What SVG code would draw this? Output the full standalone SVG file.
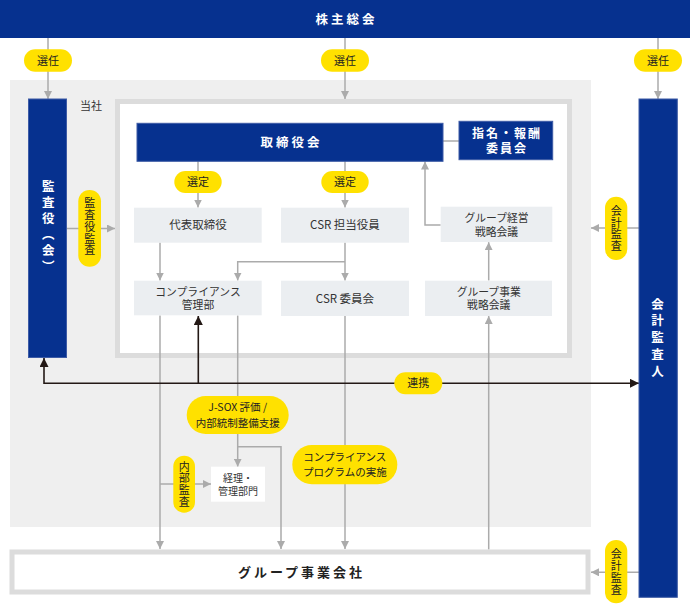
<svg xmlns="http://www.w3.org/2000/svg" width="690" height="604" viewBox="0 0 690 604">
<defs>
<marker id="ag" viewBox="0 0 8 8" refX="8" refY="4" markerWidth="8" markerHeight="8" markerUnits="userSpaceOnUse" orient="auto"><path d="M0,0 L8,4 L0,8 z" fill="#ababab"/></marker>
<marker id="ab" viewBox="0 0 8 8" refX="8" refY="4" markerWidth="9" markerHeight="9" markerUnits="userSpaceOnUse" orient="auto"><path d="M0,0 L8,4 L0,8 z" fill="#231815"/></marker>
</defs>
<style>
text{font-family:"Noto Sans CJK JP","Noto Sans",sans-serif;text-anchor:middle;}
.blue{fill:#06318f;stroke:#3d5ba6;stroke-width:1;}
.box{fill:#ebeef1;}
.pill{fill:#ffe100;}
.wt{fill:#fff;font-weight:bold;}
.lbl{fill:#333;font-size:11.5px;}
.lbl2{fill:#333;font-size:10.8px;}
.pt{fill:#222;font-size:11px;}
.vt{fill:#222;font-size:11px;writing-mode:vertical-rl;letter-spacing:0.8px;}
.vw{fill:#fff;font-weight:bold;font-size:12.5px;writing-mode:vertical-rl;}
.g{fill:none;stroke:#ababab;stroke-width:1.5;}
.k{fill:none;stroke:#231815;stroke-width:1.6;}
</style>
<rect x="0" y="0" width="690" height="604" fill="#fff"/>
<rect x="10" y="80" width="581" height="447" fill="#efefef"/>
<rect x="117.5" y="101.5" width="452" height="254" fill="#fff" stroke="#dcdcdc" stroke-width="5"/>
<text x="80" y="110" style="fill:#333;font-size:11px;text-anchor:start">当社</text>

<g id="connectors">
<line class="g" x1="48" y1="38" x2="48" y2="99" marker-end="url(#ag)"/>
<line class="g" x1="345" y1="38" x2="345" y2="99" marker-end="url(#ag)"/>
<line class="g" x1="658" y1="38" x2="658" y2="99" marker-end="url(#ag)"/>
<line class="g" x1="198" y1="161" x2="198" y2="207.5" marker-end="url(#ag)"/>
<line class="g" x1="345" y1="161" x2="345" y2="207.5" marker-end="url(#ag)"/>
<line class="g" x1="443" y1="141" x2="459" y2="141"/>
<line class="g" x1="67" y1="228.5" x2="115" y2="228.5" marker-end="url(#ag)"/>
<line class="g" x1="639" y1="228" x2="591" y2="228" marker-end="url(#ag)"/>
<line class="g" x1="160" y1="242.5" x2="160" y2="280.5" marker-end="url(#ag)"/>
<line class="g" x1="345" y1="242.5" x2="345" y2="280.5" marker-end="url(#ag)"/>
<polyline class="g" points="345,261.7 237.7,261.7 237.7,280.5" marker-end="url(#ag)"/>
<polyline class="g" points="440.7,225 425,225 425,161.5" marker-end="url(#ag)"/>
<line class="g" x1="488.7" y1="280.5" x2="488.7" y2="242.2" marker-end="url(#ag)"/>
<line class="g" x1="488.7" y1="549.5" x2="488.7" y2="316" marker-end="url(#ag)"/>
<line class="g" x1="160" y1="315.5" x2="160" y2="549" marker-end="url(#ag)"/>
<line class="g" x1="160" y1="484" x2="211" y2="484" marker-end="url(#ag)"/>
<line class="g" x1="237.7" y1="315.5" x2="237.7" y2="466.7" marker-end="url(#ag)"/>
<polyline class="g" points="237.7,446.7 281,446.7 281,549" marker-end="url(#ag)"/>
<line class="g" x1="345" y1="316" x2="345" y2="549" marker-end="url(#ag)"/>
<line class="g" x1="639" y1="572.3" x2="591" y2="572.3" marker-end="url(#ag)"/>
<line class="k" x1="44" y1="383.3" x2="639" y2="383.3" marker-end="url(#ab)"/>
<line class="k" x1="44" y1="384" x2="44" y2="358" marker-end="url(#ab)"/>
<line class="k" x1="198.3" y1="384" x2="198.3" y2="316" marker-end="url(#ab)"/>
</g>

<g id="shareholders">
<rect x="0" y="0" width="690" height="38" fill="#06318f"/>
<text class="wt" x="346.5" y="23.5" style="font-size:12.5px;letter-spacing:3px">株主総会</text>
</g>

<g id="auditors">
<rect class="blue" x="28.5" y="99" width="38" height="258.5"/>
<text class="vw" x="48.3" y="228" style="letter-spacing:3.4px">監査役（会）</text>
</g>

<g id="accounting-auditor">
<rect class="blue" x="639" y="99" width="38.3" height="498.3"/>
<text class="vw" x="657.5" y="339.5" style="letter-spacing:4.2px">会計監査人</text>
</g>

<g id="board">
<rect class="blue" x="137" y="123.3" width="306" height="38"/>
<text class="wt" x="291.5" y="146.8" style="font-size:12.5px;letter-spacing:3px">取締役会</text>
</g>

<g id="nomination">
<rect class="blue" x="459" y="121.3" width="93.7" height="38.4"/>
<text class="wt" style="font-size:12px;letter-spacing:2px"><tspan x="507" y="137.6">指名・報酬</tspan><tspan x="507" y="152.6">委員会</tspan></text>
</g>

<g id="representative">
<rect class="box" x="134" y="207.7" width="127.7" height="35"/>
<text class="lbl" x="198" y="229.4">代表取締役</text>
</g>

<g id="csr-officer">
<rect class="box" x="281" y="207.7" width="128" height="35"/>
<text class="lbl" x="345" y="229.4">CSR 担当役員</text>
</g>

<g id="group-mgmt-strategy">
<rect class="box" x="440.7" y="206.7" width="111.6" height="35.3"/>
<text class="lbl2"><tspan x="496.5" y="221.9">グループ経営</tspan><tspan x="496.5" y="235.6">戦略会議</tspan></text>
</g>

<g id="compliance-dept">
<rect class="box" x="134" y="280.7" width="127.7" height="34.6"/>
<text class="lbl2"><tspan x="198" y="295.6">コンプライアンス</tspan><tspan x="198" y="308.9">管理部</tspan></text>
</g>

<g id="csr-committee">
<rect class="box" x="281" y="280.7" width="128" height="35.3"/>
<text class="lbl" x="345" y="302.5">CSR 委員会</text>
</g>

<g id="group-biz-strategy">
<rect class="box" x="425" y="280.7" width="127" height="35.3"/>
<text class="lbl2"><tspan x="488.7" y="295.6">グループ事業</tspan><tspan x="488.7" y="308.9">戦略会議</tspan></text>
</g>

<g id="accounting-dept">
<rect x="211" y="466.7" width="54" height="35" fill="#fff"/>
<text style="fill:#333;font-size:10px"><tspan x="238" y="481.6">経理・</tspan><tspan x="238" y="495.3">管理部門</tspan></text>
</g>

<g id="group-companies">
<rect x="12" y="552" width="576" height="40" fill="#fff" stroke="#dcdcdc" stroke-width="5"/>
<text x="301.5" y="576.7" style="fill:#222;font-size:13px;font-weight:bold;letter-spacing:3px">グループ事業会社</text>
</g>

<g id="labels">
<rect class="pill" x="24" y="49.3" width="48" height="22.4" rx="11.2"/>
<text class="pt" x="48" y="64.5">選任</text>
<rect class="pill" x="321" y="49.3" width="48" height="22.4" rx="11.2"/>
<text class="pt" x="345" y="64.5">選任</text>
<rect class="pill" x="634" y="49.3" width="48" height="22.4" rx="11.2"/>
<text class="pt" x="658" y="64.5">選任</text>
<rect class="pill" x="174.3" y="171" width="47.4" height="22" rx="11"/>
<text class="pt" x="198" y="186">選定</text>
<rect class="pill" x="321.3" y="171" width="47.4" height="22" rx="11"/>
<text class="pt" x="345" y="186">選定</text>
<rect class="pill" x="78.3" y="190" width="22.7" height="76.7" rx="11.3"/>
<text class="vt" x="89.7" y="227.1">監査役監査</text>
<rect class="pill" x="605" y="196.7" width="22.3" height="63.3" rx="11.1"/>
<text class="vt" x="616.2" y="228.7">会計監査</text>
<rect class="pill" x="394.3" y="372.3" width="48" height="22" rx="11"/>
<text class="pt" x="418.3" y="387.3">連携</text>
<rect class="pill" x="186.7" y="396" width="102" height="38" rx="19"/>
<text class="pt" style="font-size:10.5px"><tspan x="237.7" y="410.6">J-SOX 評価 /</tspan><tspan x="237.7" y="426.6">内部統制整備支援</tspan></text>
<rect class="pill" x="292.3" y="445" width="105" height="39.3" rx="19.6"/>
<text class="pt" style="font-size:10.5px"><tspan x="344.8" y="461.3">コンプライアンス</tspan><tspan x="344.8" y="475.6">プログラムの実施</tspan></text>
<rect class="pill" x="173.3" y="455.7" width="21.7" height="57" rx="10.8"/>
<text class="vt" x="184.2" y="484.6">内部監査</text>
<rect class="pill" x="605" y="540" width="22.3" height="63.3" rx="11.1"/>
<text class="vt" x="616.2" y="572.1">会計監査</text>
</g>
</svg>
